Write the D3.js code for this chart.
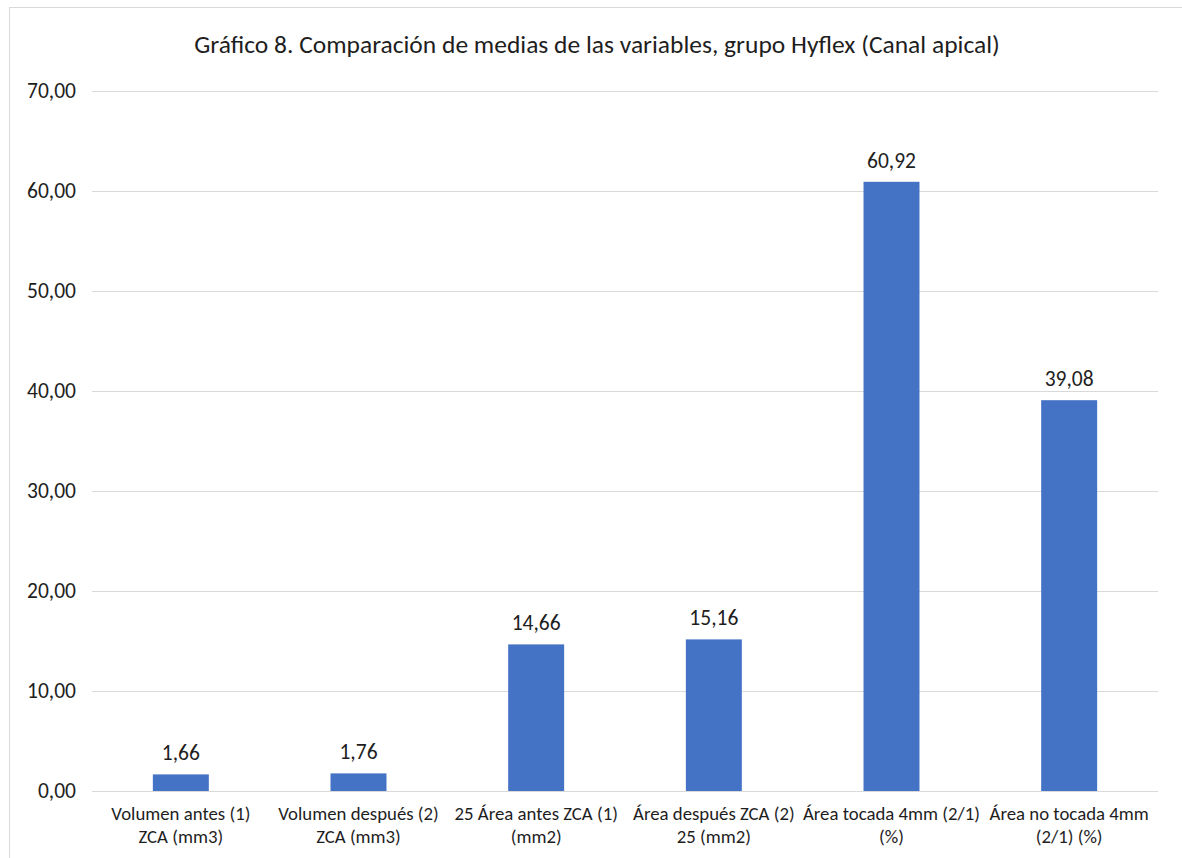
<!DOCTYPE html>
<html><head><meta charset="utf-8">
<script src="https://cdn.jsdelivr.net/npm/d3@7"></script>
<style>body{margin:0;background:#fff;} svg{display:block;} text{font-family:Carlito, "Open Sans", sans-serif;fill:#1e1e1e;}</style>
</head><body>
<svg id="c" width="1182" height="858"></svg>
<script>
const title = "Gráfico 8. Comparación de medias de las variables, grupo Hyflex (Canal apical)";
const categories = [
  ["Volumen antes (1)", "ZCA (mm3)"],
  ["Volumen después (2)", "ZCA (mm3)"],
  ["25 Área antes ZCA (1)", "(mm2)"],
  ["Área después ZCA (2)", "25 (mm2)"],
  ["Área tocada 4mm (2/1)", "(%)"],
  ["Área no tocada 4mm", "(2/1) (%)"]
];
const values = [1.66, 1.76, 14.66, 15.16, 60.92, 39.08];
const yTicks = [0, 10, 20, 30, 40, 50, 60, 70];

const fmt = v => v.toFixed(2).replace(".", ",");
const svg = d3.select("#c");
svg.append("defs").append("clipPath").attr("id", "clipLbl")
  .append("rect").attr("x", 0).attr("y", 0).attr("width", 1182).attr("height", 846);
svg.append("rect").attr("x", 9.5).attr("y", 7.5).attr("width", 1200).attr("height", 900)
  .attr("fill", "#fff").attr("stroke", "#d9d9d9");

const m = {l: 92, r: 1158, t: 91, b: 791};
const x = d3.scaleBand().domain(categories.map((d, i) => i)).range([m.l, m.r]).paddingInner(0.685).paddingOuter(0.3425);
const y = d3.scaleLinear().domain([0, 70]).range([m.b, m.t]);

svg.append("text").attr("x", 597).attr("y", 53).attr("text-anchor", "middle")
  .style("font-size", "25.5px").text(title);

const ya = svg.append("g").attr("transform", `translate(${m.l},0)`)
  .call(d3.axisLeft(y).tickValues(yTicks).tickFormat(fmt).tickSize(-(m.r - m.l)).tickPadding(16));
ya.select(".domain").remove();
ya.selectAll(".tick line").attr("stroke", "#d9d9d9").attr("stroke-width", 1);
ya.selectAll(".tick text").style("font-size", "21.5px").style("font-family", "Carlito, 'Open Sans', sans-serif").attr("fill", "#1e1e1e");

svg.append("g").selectAll("rect").data(values).join("rect")
  .attr("x", (d, i) => x(i)).attr("width", x.bandwidth())
  .attr("y", d => y(d)).attr("height", d => y(0) - y(d)).attr("fill", "#4472C4");

svg.append("g").selectAll("text").data(values).join("text")
  .attr("x", (d, i) => x(i) + x.bandwidth() / 2).attr("y", d => y(d) - 14)
  .attr("text-anchor", "middle").style("font-size", "21.5px").text(fmt);

const xl = svg.append("g").attr("clip-path", "url(#clipLbl)").selectAll("text").data(categories).join("text")
  .attr("text-anchor", "middle").style("font-size", "18.8px")
  .attr("transform", (d, i) => `translate(${x(i) + x.bandwidth() / 2},0)`);
xl.selectAll("tspan").data(d => d).join("tspan")
  .attr("x", 0).attr("y", (d, j) => 820 + j * 22.5).text(d => d);
</script>
</body></html>
